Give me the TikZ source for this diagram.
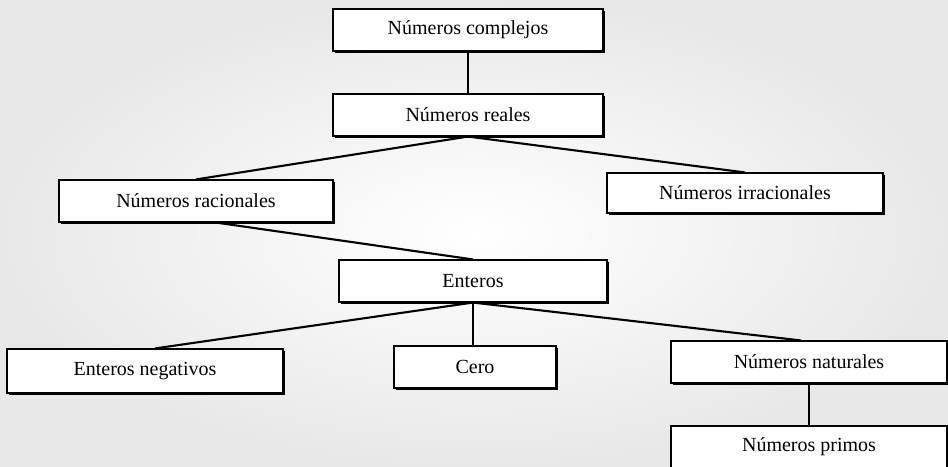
\documentclass[tikz,border=0pt]{standalone}
\usepackage{fontspec}
\setmainfont{Liberation Serif}
\usetikzlibrary{shadows}

\begin{document}
\begin{tikzpicture}[x=1pt, y=-1pt,
    caja/.style={draw, line width=1.1pt, fill=white, minimum height=42pt, inner sep=0pt,
        font=\fontsize{20}{23}\selectfont,
        general shadow={fill=black, shadow xshift=1.8pt, shadow yshift=-1.8pt}},
    rama/.style={line width=2.1pt}]
            % Fondo de la hoja escaneada
            \clip (0,0) rectangle (948,466);
            \shade[inner color=white, outer color=black!9] (0,0) rectangle (948,466);

            % Cajas
            \node[caja, minimum width=270pt] (cplx) at (468,30) {Números complejos};
            \node[caja, minimum width=270pt] (reales) at (468,115) {Números reales};
            \node[caja, minimum width=274pt] (racion) at (196,201) {Números racionales};
            \node[caja, minimum width=276pt, minimum height=40pt] (irrac) at (745,193) {Números irracionales};
            \node[caja, minimum width=268pt] (enteros) at (473,281) {Enteros};
            \node[caja, minimum width=276pt, minimum height=44pt] (negat) at (145,371) {Enteros negativos};
            \node[caja, minimum width=162pt] (cero) at (475,367) {Cero};
            \node[caja, minimum width=276pt] (natur) at (809,362) {Números naturales};
            \node[caja, minimum width=276pt] (primos) at (809,447) {Números primos};

            % Ramas del árbol
            \draw[rama] (cplx) -- (reales);
            \draw[rama] (reales.south) -- (racion.north);
            \draw[rama] (reales.south) -- (irrac.north);
            \draw[rama] ([xshift=20pt]racion.south) -- (enteros.north);
            \draw[rama] (enteros.south) -- ([xshift=10pt]negat.north);
            \draw[rama] (enteros.south) -- (enteros.south |- cero.north);
            \draw[rama] (enteros.south) -- ([xshift=-8pt]natur.north);
            \draw[rama] (natur) -- (primos);
        \end{tikzpicture}
\end{document}
